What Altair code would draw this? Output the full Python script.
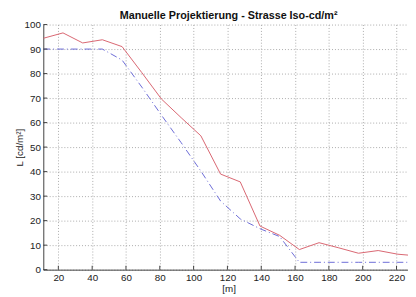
import altair as alt
import pandas as pd

x_m = [11.1, 22.75, 34.4, 46.05, 57.7, 69.35, 81.0, 92.65, 104.3, 115.95,
       127.6, 139.25, 150.9, 162.55, 174.2, 185.85, 197.5, 209.15, 220.8, 232.45]
red_L = [94.4, 96.6, 92.5, 93.8, 91.0, 80.4, 69.6, 62.0, 54.6, 39.0,
         35.8, 17.8, 14.0, 8.2, 11.0, 8.9, 6.7, 7.8, 6.3, 5.6]
blue_L = [90.0, 90.0, 90.0, 90.0, 85.5, 74.5, 63.0, 51.8, 40.2, 28.0,
          20.7, 16.7, 13.5, 3.0, 3.0, 3.0, 3.0, 3.0, 3.0, 3.0]
x_ticks = [20, 40, 60, 80, 100, 120, 140, 160, 180, 200, 220]
y_ticks = [0, 10, 20, 30, 40, 50, 60, 70, 80, 90, 100]

FONT = "Liberation Sans"
df = pd.DataFrame({"x": x_m, "red": red_L, "blue": blue_L})

xs = alt.Scale(domain=[11.1, 226.8], nice=False, zero=False)
ys = alt.Scale(domain=[0, 100], nice=False, zero=True)

xaxis = alt.Axis(values=x_ticks, grid=True, gridDash=[1, 2], gridColor="#aaaaaa",
                 ticks=False, labelPadding=3, labelFontSize=10, labelFont=FONT,
                 labelColor="#222222", domainColor="#404040", title="[m]",
                 titleFont=FONT, titleFontSize=10, titleFontWeight="normal",
                 titleColor="#222222", titleX=189, titleY=22,
                 titleBaseline="alphabetic", titleAlign="center", labelFlush=False,
                 labelOverlap=False)
yaxis = alt.Axis(values=y_ticks, grid=True, gridDash=[1, 2], gridColor="#aaaaaa",
                 ticks=False, labelPadding=3, labelFontSize=10, labelFont=FONT,
                 labelColor="#222222", domainColor="#404040", title="L [cd/m²]",
                 titleFont=FONT, titleFontSize=10, titleFontWeight="normal",
                 titleColor="#222222", titleX=-24, titleY=125, titleAngle=270,
                 titleAlign="center", titleBaseline="middle", labelFlush=False,
                 labelOverlap=False)

base = alt.Chart(df)
red = base.mark_line(color="#d86470", strokeWidth=1, clip=True).encode(
    x=alt.X("x:Q", scale=xs, axis=xaxis), y=alt.Y("red:Q", scale=ys, axis=yaxis))
blue = base.mark_line(color="#6a6ad6", strokeWidth=1, strokeDash=[7, 3, 1, 3], clip=True).encode(
    x=alt.X("x:Q", scale=xs, axis=xaxis), y=alt.Y("blue:Q", scale=ys, axis=yaxis))

xt = alt.Chart(pd.DataFrame({"t": x_ticks})).mark_rule(color="#404040").encode(
    x=alt.X("t:Q", scale=xs, axis=xaxis), y=alt.value(250), y2=alt.value(246))
yt = alt.Chart(pd.DataFrame({"t": y_ticks})).mark_rule(color="#404040").encode(
    y=alt.Y("t:Q", scale=ys, axis=yaxis), x=alt.value(0), x2=alt.value(4))

chart = alt.layer(red, blue, xt, yt).properties(
    width=372, height=250,
    autosize=alt.AutoSizeParams(type="none"),
    padding={"left": 36, "top": 14, "right": 0, "bottom": 25},
    title=alt.TitleParams("Manuelle Projektierung - Strasse Iso-cd/m²", font=FONT,
                          fontSize=11, fontWeight="bold", color="#111111",
                          anchor="middle", offset=-1, dx=3),
).configure_view(stroke=None)

chart.save("out.html", embed_options={"renderer": "svg", "actions": False})
